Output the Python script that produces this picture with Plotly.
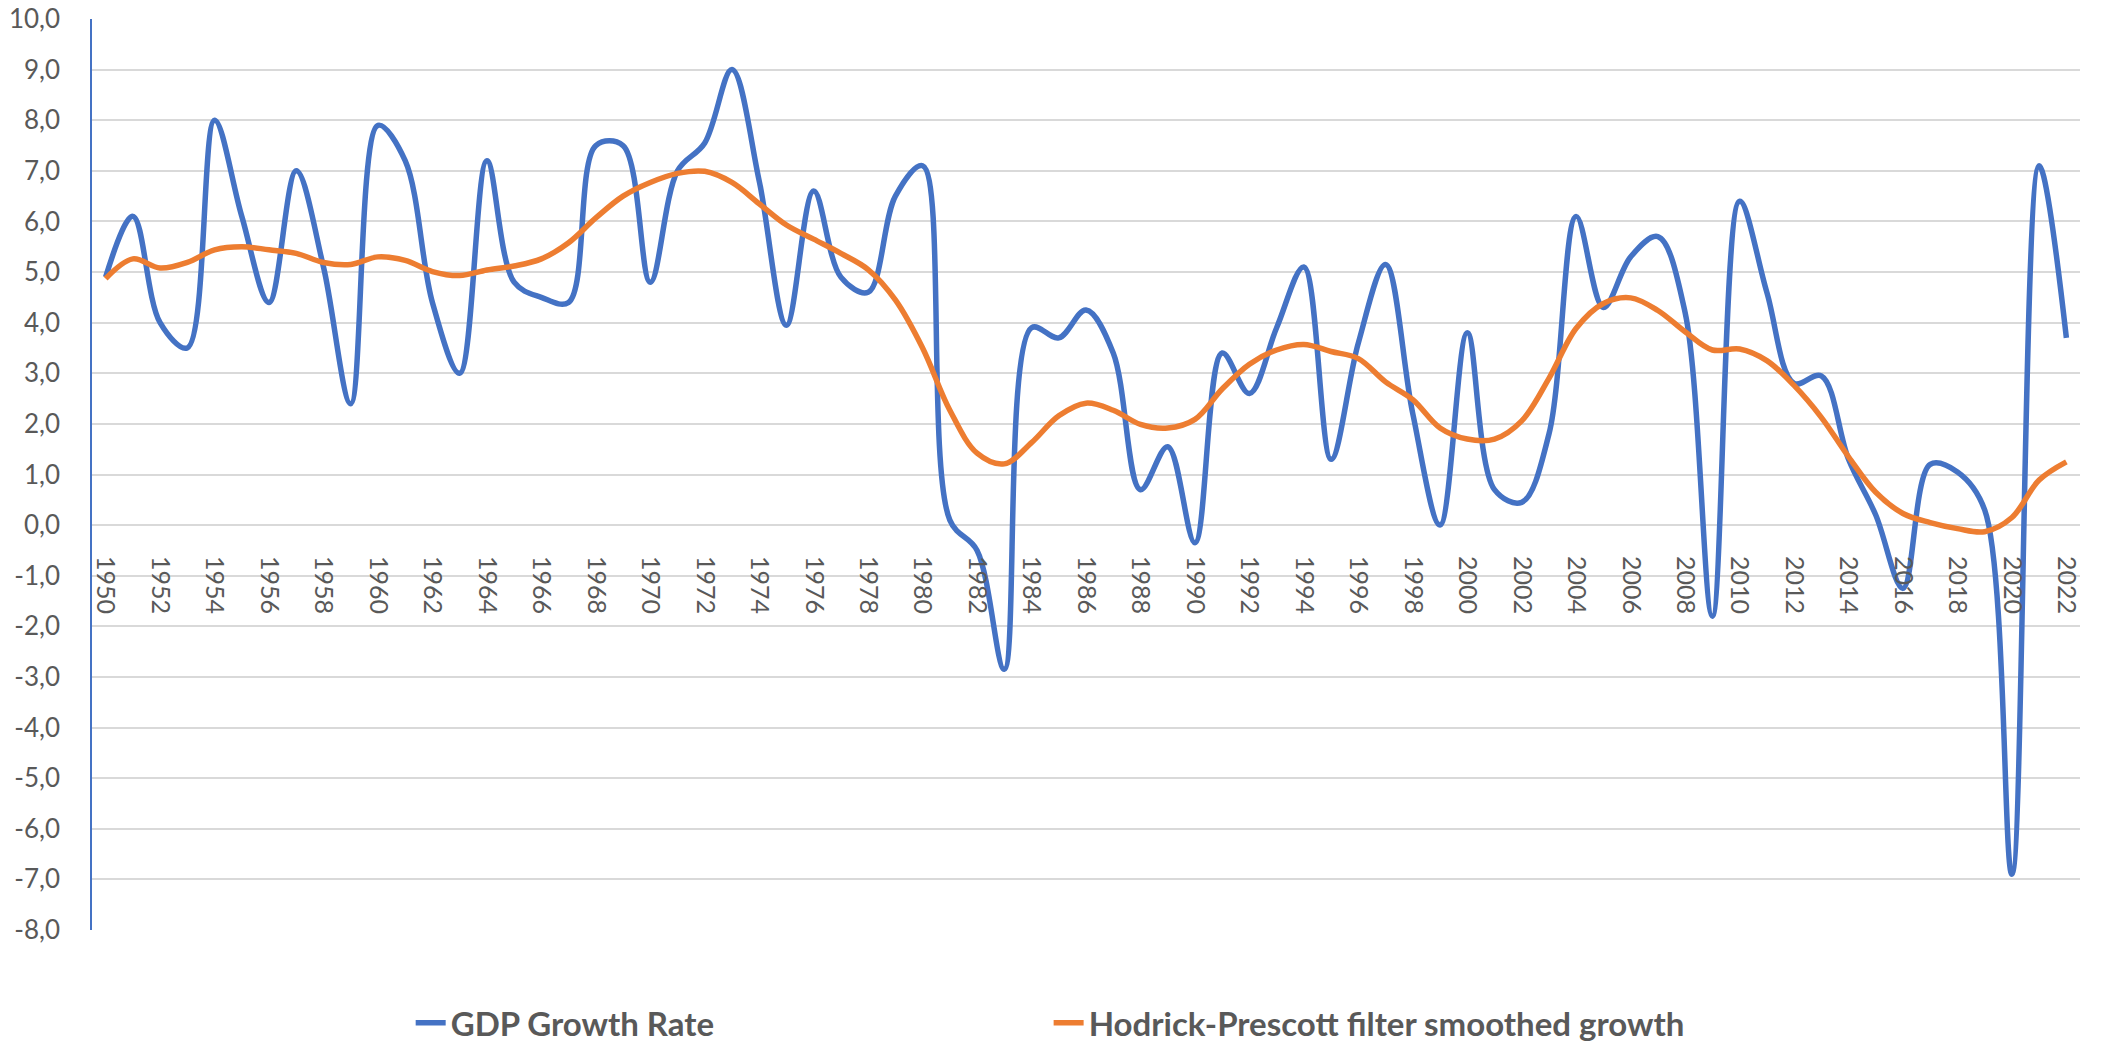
import plotly.graph_objects as go

years = list(range(1950, 2023))

gdp_growth = [
    4.9, 6.1, 4.0, 3.5, 8.0, 6.1, 4.4, 7.0, 5.1, 2.4,
    7.9, 7.2, 4.4, 3.0, 7.2, 4.8, 4.5, 4.4, 7.5, 7.5,
    4.8, 7.0, 7.55, 9.0, 6.8, 3.95, 6.6, 4.9, 4.6, 6.5,
    7.1, 0.1, -0.5, -2.85, 3.9, 3.7, 4.25, 3.4, 0.7, 1.55,
    -0.35, 3.4, 2.6, 3.9, 5.1, 1.3, 3.6, 5.15, 2.2, 0.0,
    3.8, 0.7, 0.45, 1.8, 6.1, 4.3, 5.3, 5.7, 4.2, -1.8,
    6.4, 4.6, 2.8, 2.95, 1.3, 0.2, -1.25, 1.2, 1.05, 0.3,
    -6.9, 7.1, 3.7,
]

hp_trend = [
    4.87, 5.26, 5.08, 5.19, 5.44, 5.5, 5.44, 5.37, 5.19, 5.15,
    5.3, 5.23, 5.01, 4.93, 5.04, 5.12, 5.26, 5.58, 6.07, 6.5,
    6.77, 6.95, 6.99, 6.77, 6.35, 5.93, 5.65, 5.37, 5.05, 4.45,
    3.5, 2.27, 1.42, 1.21, 1.63, 2.16, 2.41, 2.27, 1.99, 1.92,
    2.09, 2.69, 3.18, 3.46, 3.57, 3.43, 3.29, 2.83, 2.48, 1.92,
    1.7, 1.7, 2.06, 2.9, 3.89, 4.38, 4.49, 4.24, 3.82, 3.46,
    3.48, 3.25, 2.76, 2.13, 1.35, 0.65, 0.23, 0.05, -0.07, -0.13,
    0.15, 0.89, 1.25,
]

series_names = ["GDP Growth Rate", "Hodrick-Prescott filter smoothed growth"]

y_tick_vals = list(range(-8, 11))
y_tick_text = [f"{v},0" for v in y_tick_vals]
x_tick_vals = list(range(1950, 2023, 2))

BLUE = "#4472C4"
ORANGE = "#ED7D31"
GRAY = "#595959"
FONT = "Lato, 'Open Sans', sans-serif"

fig = go.Figure()
fig.add_trace(go.Scatter(
    x=years, y=gdp_growth, name=series_names[0], mode="lines",
    line=dict(color=BLUE, width=5.5, shape="spline", smoothing=1.0),
    legend="legend",
))
fig.add_trace(go.Scatter(
    x=years, y=hp_trend, name=series_names[1], mode="lines",
    line=dict(color=ORANGE, width=5.5, shape="spline", smoothing=1.0),
    legend="legend2",
))

y_min, y_max = -8, 10
zero_pos = (0 - y_min) / (y_max - y_min)

legend_font = dict(family=FONT, size=33, color=GRAY, weight="bold")
legend_y = -0.1018

fig.update_layout(
    width=2101, height=1043,
    margin=dict(l=92, r=21, t=19, b=113, autoexpand=False),
    paper_bgcolor="white", plot_bgcolor="white",
    font=dict(family=FONT, color=GRAY, size=26),
    showlegend=True,
    legend=dict(
        orientation="h", x=0.1603, xanchor="left", y=legend_y, yanchor="middle",
        font=legend_font, bgcolor="rgba(0,0,0,0)",
    ),
    legend2=dict(
        orientation="h", x=0.4812, xanchor="left", y=legend_y, yanchor="middle",
        font=legend_font, bgcolor="rgba(0,0,0,0)",
    ),
    xaxis=dict(
        range=[1949.5, 2022.5],
        tickmode="array", tickvals=x_tick_vals, ticktext=[str(v) for v in x_tick_vals],
        tickangle=90, showgrid=False, zeroline=False, showline=False,
        anchor="free", position=zero_pos, automargin=False,
        ticks="outside", ticklen=25, tickcolor="rgba(0,0,0,0)",
        tickfont=dict(family=FONT, size=25, color=GRAY),
    ),
    yaxis=dict(
        range=[y_min, y_max], automargin=False,
        tickmode="array", tickvals=y_tick_vals, ticktext=y_tick_text,
        showgrid=True, gridcolor="#D9D9D9", gridwidth=2,
        zeroline=True, zerolinecolor="#D9D9D9", zerolinewidth=2,
        showline=True, linecolor=BLUE, linewidth=1.5,
        ticks="", ticklabelstandoff=25,
        tickfont=dict(family=FONT, size=26, color=GRAY),
    ),
)

fig.write_html(
    "out.html",
    config={"displayModeBar": False},
    post_script="document.body.style.margin='0px';",
)
